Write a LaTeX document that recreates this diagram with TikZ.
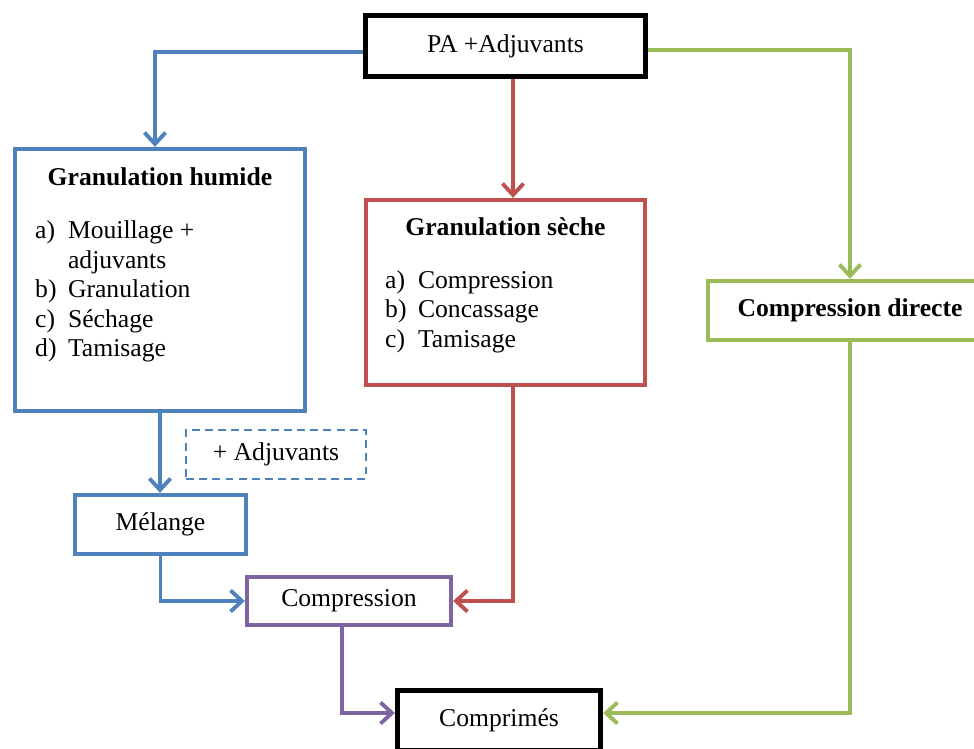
\documentclass[tikz,border=0pt]{standalone}
\usepackage{fontspec}
\setmainfont{Liberation Serif}
\usetikzlibrary{arrows.meta,positioning}
\definecolor{wetcol}{RGB}{79,129,189}
\definecolor{drycol}{RGB}{192,80,77}
\definecolor{directcol}{RGB}{155,187,89}
\definecolor{presscol}{RGB}{128,100,162}

\begin{document}
\begin{tikzpicture}[x=0.02cm,y=-0.02cm,>={Straight Barb[length=6.5pt,width=12pt]},
    font=\fontsize{14.6}{16.8}\selectfont,
    box/.style={draw=#1,rectangle,line width=2.5pt,inner sep=0pt,align=center},
    flow/.style={->,line width=2.2pt},
    heading/.style={font=\fontsize{14.6}{16.8}\selectfont\bfseries,inner sep=0pt},
    steps/.style={inner sep=0pt,anchor=north west}]
  \useasboundingbox (0,0) rectangle (974,749);
  % start and end
  \node[box=black,line width=3.1pt,minimum width=5.6cm,minimum height=1.22cm] (pa) at (505.5,46) {PA +Adjuvants};
  \node[box=black,line width=3.1pt,minimum width=4.06cm,minimum height=1.2cm] (comprimes) at (499,720.5) {Comprimés};
  % wet granulation
  \node[box=wetcol,minimum width=5.8cm,minimum height=5.24cm] (humide) at (160,280) {};
  \node[heading,below=0.41cm of humide.north] (humidetitle) {Granulation humide};
  \node[steps,below right=1.42cm and 0.44cm of humide.north west] (humidesteps)
     {\begin{tabular}{@{}p{18.7pt}@{}l@{}}
        a) & Mouillage + \\ & adjuvants \\ b) & Granulation \\ c) & Séchage \\ d) & Tamisage
      \end{tabular}};
  \node[box=wetcol,dash pattern=on 4.5pt off 3pt,line width=1.2pt,minimum width=3.6cm,minimum height=0.98cm] (extra) at (276,454.5) {+ Adjuvants};
  \node[box=wetcol,minimum width=3.42cm,minimum height=1.18cm] (melange) at (160.5,524.5) {Mélange};
  % dry granulation
  \node[box=drycol,minimum width=5.58cm,minimum height=3.7cm] (seche) at (505.5,292.5) {};
  \node[heading,below=0.39cm of seche.north] (sechetitle) {Granulation sèche};
  \node[steps,below right=1.39cm and 0.42cm of seche.north west] (sechesteps)
     {\begin{tabular}{@{}p{18.7pt}@{}l@{}}
        a) & Compression \\ b) & Concassage \\ c) & Tamisage
      \end{tabular}};
  % direct compression
  \node[box=directcol,minimum width=5.68cm,minimum height=1.18cm] (directe) at (850,310.5) {\bfseries Compression directe};
  \node[box=presscol,minimum width=4.08cm,minimum height=0.96cm] (compression) at (349,601) {\raisebox{-2pt}{Compression}};
  % connectors
  \draw[flow,wetcol] ([yshift=-0.12cm]pa.west) -| ([xshift=-0.1cm]humide.north);
  \draw[flow,drycol] ([xshift=0.15cm]pa.south) -- ([xshift=0.15cm]seche.north);
  \draw[flow,directcol] ([yshift=-0.08cm]pa.east) -| (directe.north);
  \draw[flow,wetcol] (humide.south) -- (humide.south |- melange.north);
  \draw[flow,wetcol] (melange.south) |- (compression.west);
  \draw[flow,drycol] ([xshift=0.15cm]seche.south) |- (compression.east);
  \draw[flow,presscol] ([xshift=-0.14cm]compression.south) |- ([yshift=0.15cm]comprimes.west);
  \draw[flow,directcol] (directe.south) |- ([yshift=0.15cm]comprimes.east);
\end{tikzpicture}
\end{document}
